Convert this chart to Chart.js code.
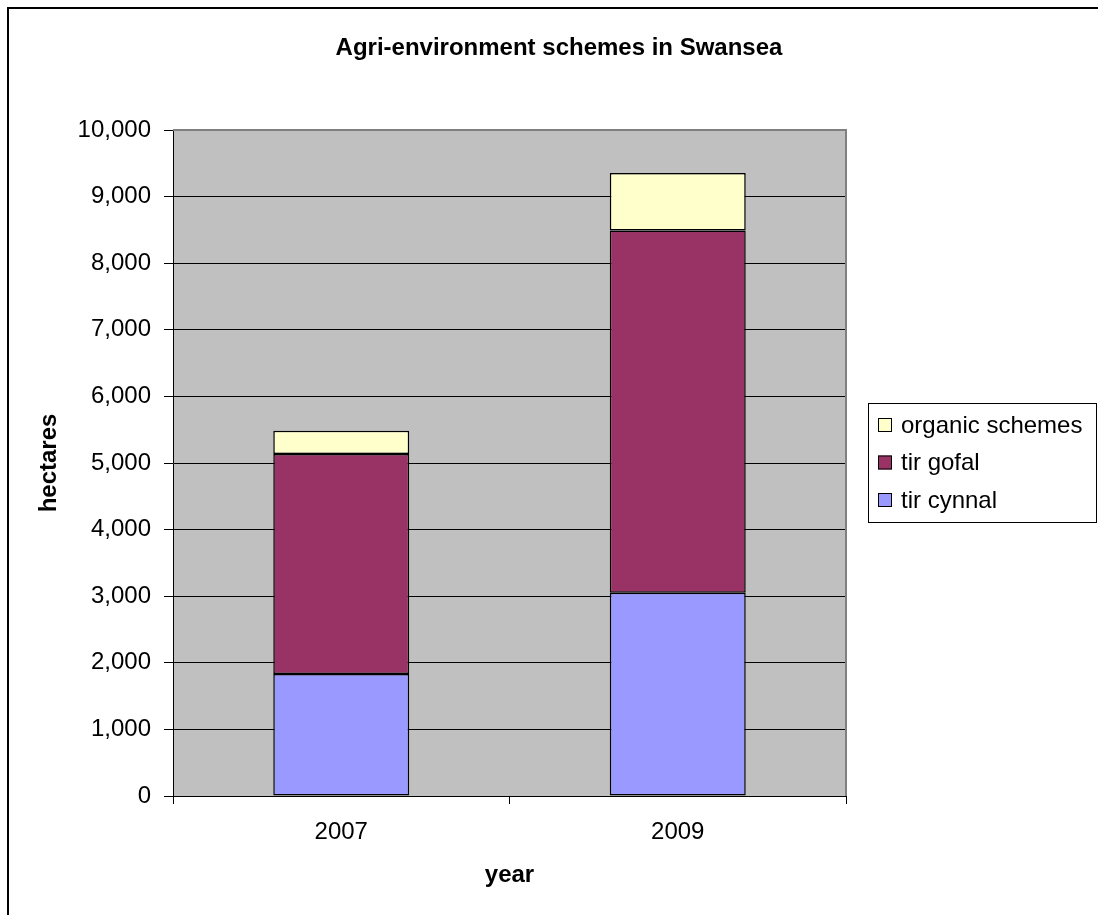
<!DOCTYPE html>
<html lang="en">
<head>
  <meta charset="UTF-8">
  <title>Agri-environment schemes in Swansea</title>
  <script src="https://cdn.jsdelivr.net/npm/chart.js"></script>
  <style>
    body { margin: 0; background: #fff; }
    canvas { display: block; }
  </style>
</head>
<body>
  <canvas id="grafico" width="1098" height="915"></canvas>

  <script>
    const years = ['2007', '2009'];
    const tirCynnal = [1830, 3050];
    const tirGofal = [3305, 5440];
    const organic = [350, 865];
    const yTicks = [0, 1000, 2000, 3000, 4000, 5000, 6000, 7000, 8000, 9000, 10000];

    const FONT = "'Liberation Sans', Arial, sans-serif";

    // background, plot area, title, legend
    const extras = {
      id: 'extras',
      beforeDraw(chart) {
        const { ctx, chartArea: a } = chart;
        ctx.save();
        ctx.fillStyle = '#fff';
        ctx.fillRect(0, 0, chart.width, chart.height);
        ctx.strokeStyle = '#000';
        ctx.lineWidth = 2;
        ctx.strokeRect(8, 8, chart.width + 10, chart.height + 10);
        ctx.fillStyle = '#c0c0c0';
        ctx.fillRect(a.left, a.top, a.right - a.left, a.bottom - a.top);
        ctx.restore();
      },
      afterDraw(chart) {
        const { ctx, chartArea: a } = chart;
        ctx.save();
        ctx.strokeStyle = '#808080';
        ctx.lineWidth = 2;
        ctx.beginPath();
        ctx.moveTo(a.left, a.top);
        ctx.lineTo(a.right, a.top);
        ctx.lineTo(a.right, a.bottom);
        ctx.stroke();

        ctx.fillStyle = '#000';
        ctx.font = 'bold 24px ' + FONT;
        ctx.textAlign = 'center';
        ctx.textBaseline = 'middle';
        ctx.fillText('Agri-environment schemes in Swansea', 559, 48);

        // legend
        ctx.lineWidth = 1;
        ctx.strokeStyle = '#000';
        ctx.strokeRect(868.5, 403.5, 228, 119);
        ctx.font = '24px ' + FONT;
        ctx.textAlign = 'left';
        const ds = chart.data.datasets.slice().reverse();
        ds.forEach((d, i) => {
          const cy = 425 + i * 37.5;
          ctx.fillStyle = d.backgroundColor;
          ctx.fillRect(878, cy - 7, 14, 14);
          ctx.strokeRect(878.5, cy - 6.5, 13, 13);
          ctx.fillStyle = '#000';
          ctx.fillText(d.label, 901, cy + 1);
        });
        ctx.restore();
      }
    };

    const ctx = document.getElementById('grafico').getContext('2d');
    new Chart(ctx, {
      type: 'bar',
      data: {
        labels: years,
        datasets: [
          { label: 'tir cynnal', data: tirCynnal, backgroundColor: '#9999ff' },
          { label: 'tir gofal', data: tirGofal, backgroundColor: '#993366' },
          { label: 'organic schemes', data: organic, backgroundColor: '#ffffcc' }
        ].map(d => Object.assign(d, {
          borderColor: '#000',
          borderWidth: 1.5,
          borderSkipped: false,
          categoryPercentage: 1,
          barPercentage: 0.404
        }))
      },
      plugins: [extras],
      options: {
        responsive: false,
        animation: false,
        devicePixelRatio: 1,
        layout: { padding: { top: 130, right: 252, left: 0, bottom: 0 } },
        plugins: {
          legend: { display: false },
          tooltip: { enabled: false }
        },
        scales: {
          x: {
            stacked: true,
            afterFit(scale) { scale.height = 119; },
            grid: { drawOnChartArea: false, color: '#000', tickLength: 8 },
            border: { color: '#000', width: 1 },
            ticks: { color: '#000', font: { family: FONT, size: 24 }, padding: 14 },
            title: {
              display: true, text: 'year', color: '#000',
              font: { family: FONT, size: 24, weight: 'bold' },
              padding: { top: 0, bottom: 25 }
            }
          },
          y: {
            stacked: true,
            min: 0,
            max: 10000,
            afterFit(scale) { scale.width = 173; },
            afterBuildTicks(scale) { scale.ticks = yTicks.map(v => ({ value: v })); },
            grid: { color: '#000', tickLength: 9 },
            border: { color: '#000', width: 1 },
            ticks: {
              color: '#000',
              font: { family: FONT, size: 24 },
              padding: 13,
              callback: v => v.toLocaleString('en-US')
            },
            title: {
              display: true, text: 'hectares', color: '#000',
              font: { family: FONT, size: 24, weight: 'bold' },
              padding: { top: 35, bottom: 0 }
            }
          }
        }
      }
    });
  </script>
</body>
</html>
